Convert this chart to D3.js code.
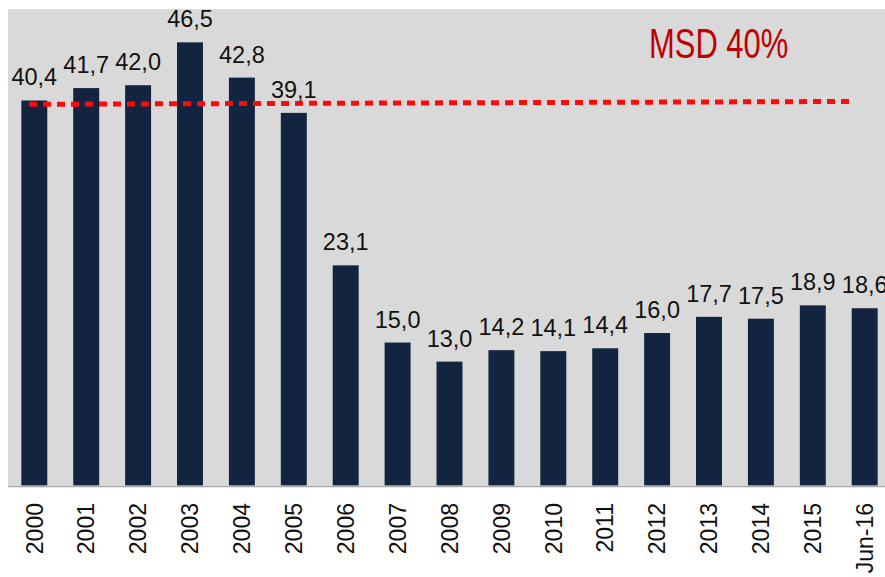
<!DOCTYPE html>
<html>
<head>
<meta charset="utf-8">
<title>MSD</title>
<style>
  body { margin: 0; background: #fff; }
  text { font-family: "Liberation Sans", Arial, sans-serif; }
</style>
</head>
<body>
<div class="plot_container"></div>
<script src="https://cdn.jsdelivr.net/npm/d3@7/dist/d3.min.js"></script>
<script>
// data
var categories = ["2000","2001","2002","2003","2004","2005","2006","2007","2008",
                  "2009","2010","2011","2012","2013","2014","2015","Jun-16"];
var values = [40.4, 41.7, 42.0, 46.5, 42.8, 39.1, 23.1, 15.0, 13.0,
              14.2, 14.1, 14.4, 16.0, 17.7, 17.5, 18.9, 18.6];
var msdLabel = "MSD 40%";
var msdLevel = [40.0, 40.3]; // dashed line, left end / right end (slightly tilted in the picture)

var width = 885, height = 577;
var plotLeft = 8, plotTop = 9, baseline = 485.5;

var svg = d3.select(".plot_container").append("svg")
    .attr("width", width)
    .attr("height", height);

var x = d3.scaleBand()
    .domain(categories)
    .range([8.35, 890.65])
    .paddingInner(0.5)
    .paddingOuter(0.25);

var y = d3.scaleLinear()
    .domain([0, 50])
    .range([baseline, plotTop]);

// grey plot area
svg.append("rect")
    .attr("x", plotLeft)
    .attr("y", plotTop)
    .attr("width", width - plotLeft)
    .attr("height", baseline - plotTop)
    .attr("fill", "#d9d9d9");

// bars
svg.selectAll(".bar")
    .data(values)
    .enter()
    .append("rect")
    .attr("class", "bar")
    .attr("x", function(d, i){ return x(categories[i]); })
    .attr("y", function(d){ return y(d); })
    .attr("width", x.bandwidth())
    .attr("height", function(d){ return y(0) - y(d); })
    .attr("fill", "#12243f");

// value labels
svg.selectAll(".val")
    .data(values)
    .enter()
    .append("text")
    .attr("class", "val")
    .attr("x", function(d, i){ return x(categories[i]) + x.bandwidth()/2; })
    .attr("y", function(d){ return y(d) - 15; })
    .attr("text-anchor", "middle")
    .attr("font-size", 23.5)
    .attr("fill", "#111")
    .text(function(d){ return d.toFixed(1).replace(".", ","); });

// x axis line
svg.append("line")
    .attr("x1", plotLeft).attr("x2", width)
    .attr("y1", baseline + 1).attr("y2", baseline + 1)
    .attr("stroke", "#a6a6a6")
    .attr("stroke-width", 1.5);

// rotated category labels
svg.selectAll(".cat")
    .data(categories)
    .enter()
    .append("text")
    .attr("class", "cat")
    .attr("transform", function(d){
        return "translate(" + (x(d) + x.bandwidth()/2) + ",503) rotate(-90)";
    })
    .attr("dy", "0.36em")
    .attr("text-anchor", "end")
    .attr("font-size", 23)
    .attr("fill", "#111")
    .text(function(d){ return d; });

// MSD dashed line
svg.append("line")
    .attr("x1", 29)
    .attr("x2", 855)
    .attr("y1", y(msdLevel[0]))
    .attr("y2", y(msdLevel[1]))
    .attr("stroke", "#ff0a0a")
    .attr("stroke-width", 5)
    .attr("stroke-dasharray", "8,6");

svg.append("text")
    .attr("transform", "translate(649,58) scale(0.72,1)")
    .attr("font-size", 43)
    .attr("fill", "#c00000")
    .text(msdLabel);
</script>
</body>
</html>
